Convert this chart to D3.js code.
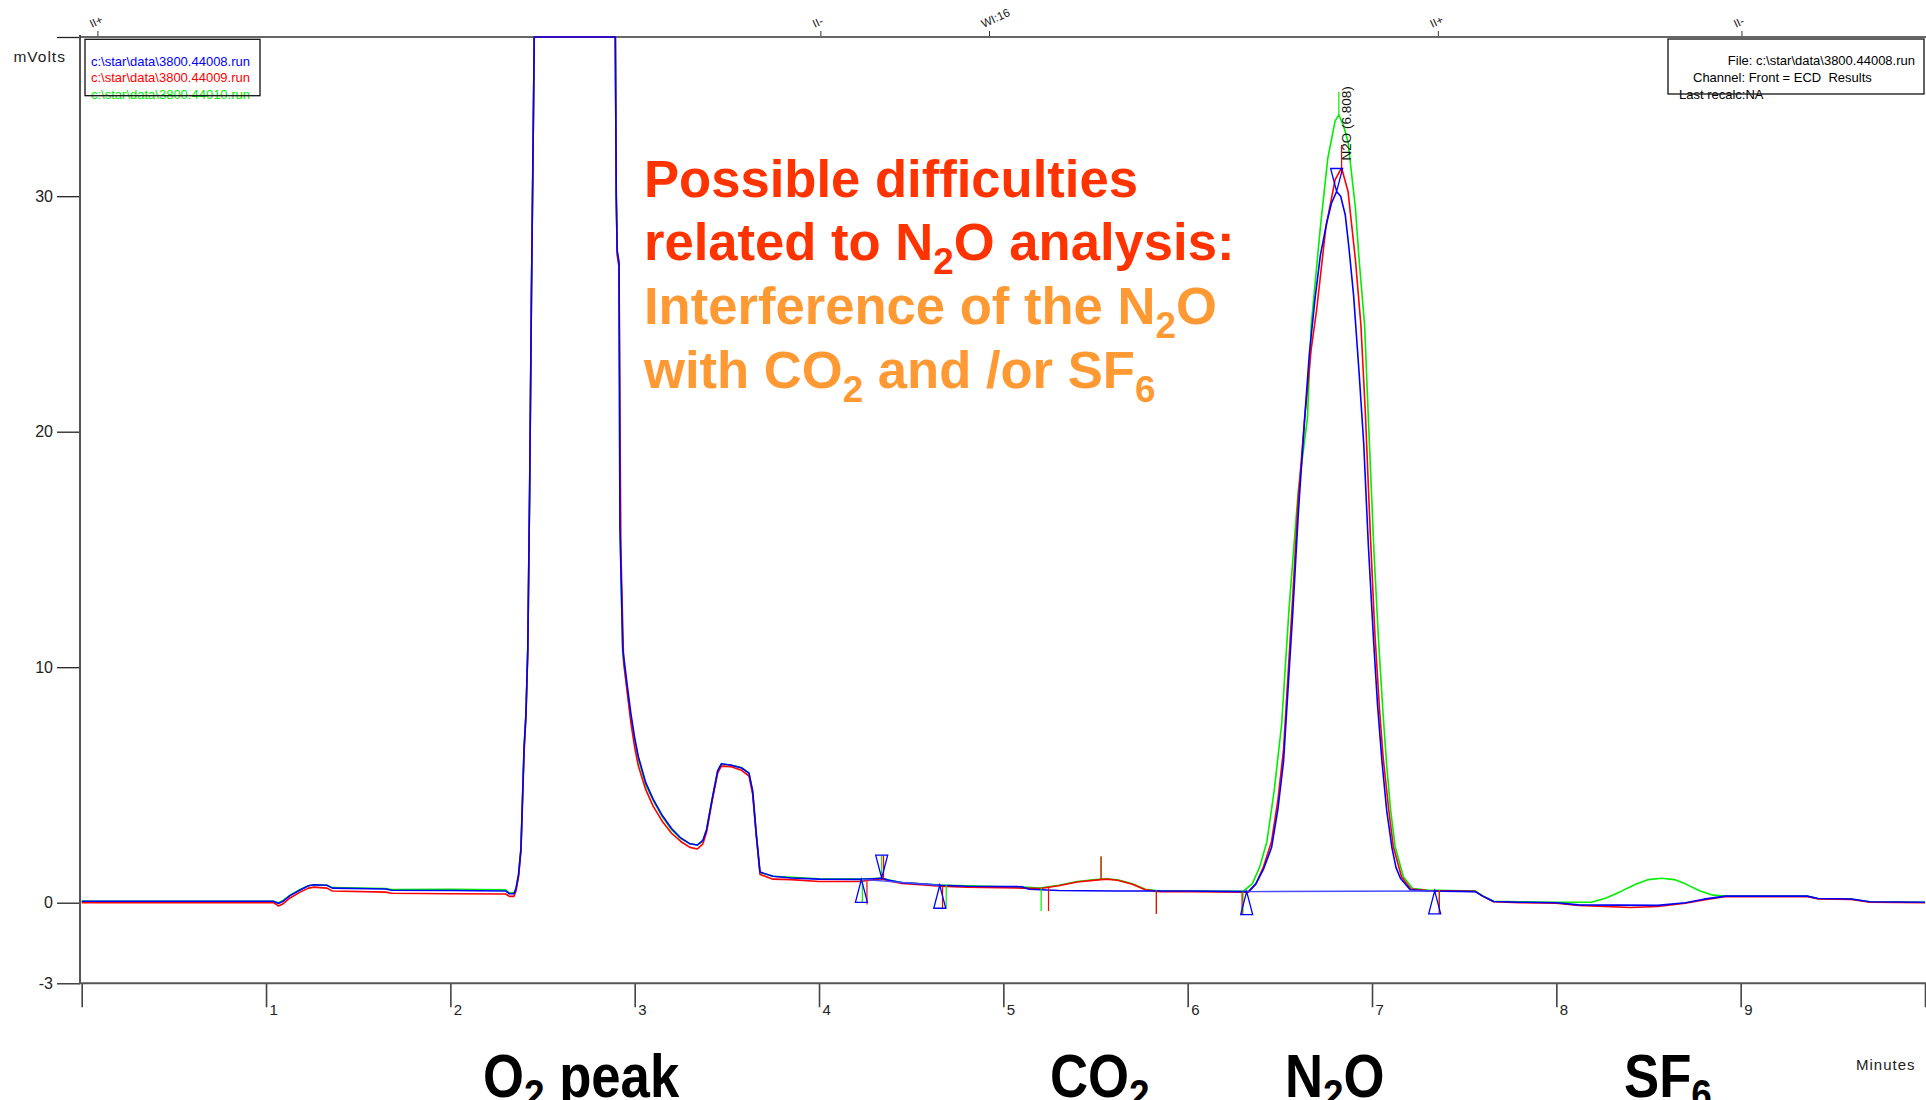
<!DOCTYPE html>
<html>
<head>
<meta charset="utf-8">
<script src="https://cdn.jsdelivr.net/npm/d3@7"></script>
<style>
  body { margin: 0; background: #fff; }
  svg { display: block; }
  text { font-family: "Liberation Sans", Arial, sans-serif; }
</style>
</head>
<body>
<script>
// chromatogram runs, each point is [minutes, mVolts]
var blueRun = [
  [0, 0.06], [1.04, 0.06], [1.067, -0.03], [1.09, 0.05], [1.13, 0.3], [1.185, 0.54], [1.23, 0.72], [1.26, 0.76],
  [1.33, 0.74], [1.36, 0.62], [1.65, 0.58], [1.68, 0.53], [2.0, 0.52], [2.3, 0.5], [2.32, 0.38], [2.345, 0.38],
  [2.356, 0.6], [2.37, 1.2], [2.383, 2.3], [2.40, 6.6], [2.41, 8.0], [2.42, 10.8], [2.43, 17.5], [2.44, 26],
  [2.45, 33], [2.455, 36.76], [2.895, 36.76], [2.9, 30], [2.905, 27.7], [2.915, 27.2], [2.92, 16], [2.935, 10.8],
  [2.96, 9.2], [2.98, 8.0], [3.0, 7.0], [3.02, 6.2], [3.06, 5.1], [3.1, 4.4], [3.15, 3.7], [3.2, 3.15],
  [3.25, 2.75], [3.3, 2.5], [3.34, 2.45], [3.37, 2.65], [3.39, 3.1], [3.42, 4.4], [3.45, 5.6], [3.47, 5.9],
  [3.52, 5.85], [3.58, 5.72], [3.62, 5.5], [3.64, 4.75], [3.66, 2.9], [3.68, 1.3], [3.75, 1.12], [3.85, 1.05],
  [4.0, 1.0], [4.22, 0.99], [4.3, 1.02], [4.34, 1.04], [4.38, 0.95], [4.45, 0.85], [4.55, 0.8], [4.66, 0.74],
  [4.8, 0.7], [5.1, 0.68], [5.14, 0.57], [5.3, 0.52], [5.6, 0.5], [6.0, 0.5], [6.33, 0.47], [6.37, 0.8],
  [6.41, 1.4], [6.455, 2.34], [6.49, 4.0], [6.52, 6.0], [6.57, 12.3], [6.6, 16.5], [6.635, 20.6], [6.66, 23.3],
  [6.69, 25.6], [6.72, 27.5], [6.755, 28.9], [6.78, 29.7], [6.808, 30.2], [6.83, 30.0], [6.855, 29.2], [6.875, 27.8],
  [6.9, 25.8], [6.93, 22.5], [6.955, 19.5], [6.98, 15.2], [7.008, 11.2], [7.03, 8.4], [7.054, 6.0], [7.08, 3.9],
  [7.108, 2.34], [7.13, 1.5], [7.154, 1.04], [7.207, 0.55], [7.3, 0.5], [7.56, 0.47], [7.6, 0.28], [7.66, 0.05],
  [7.8, 0.02], [8.0, 0.0], [8.12, -0.08], [8.55, -0.1], [8.7, 0.0], [8.8, 0.15], [8.92, 0.28], [9.36, 0.28],
  [9.42, 0.18], [9.6, 0.16], [9.7, 0.04], [10, 0.02]
];

var redRun = [
  [0, 0.0], [1.04, 0.0], [1.067, -0.12], [1.09, -0.05], [1.13, 0.2], [1.185, 0.45], [1.23, 0.62], [1.26, 0.66],
  [1.33, 0.62], [1.36, 0.5], [1.65, 0.45], [1.68, 0.4], [2.0, 0.38], [2.3, 0.37], [2.32, 0.27], [2.345, 0.27],
  [2.356, 0.5], [2.37, 1.1], [2.383, 2.2], [2.40, 6.4], [2.41, 7.9], [2.42, 10.6], [2.43, 17.3], [2.44, 25.8],
  [2.45, 33], [2.455, 36.76], [2.895, 36.76], [2.9, 30], [2.905, 27.5], [2.915, 27], [2.925, 15], [2.94, 10.2],
  [2.96, 8.9], [2.98, 7.6], [3.0, 6.6], [3.02, 5.8], [3.06, 4.8], [3.1, 4.1], [3.15, 3.45], [3.2, 2.95],
  [3.25, 2.6], [3.3, 2.35], [3.34, 2.28], [3.37, 2.5], [3.39, 3.0], [3.42, 4.3], [3.45, 5.5], [3.47, 5.8],
  [3.52, 5.78], [3.58, 5.62], [3.62, 5.38], [3.64, 4.6], [3.66, 2.8], [3.68, 1.2], [3.75, 1.0], [3.85, 0.98],
  [4.0, 0.9], [4.22, 0.9], [4.3, 0.98], [4.34, 1.02], [4.38, 0.92], [4.45, 0.82], [4.55, 0.76], [4.66, 0.7],
  [4.8, 0.66], [5.1, 0.62], [5.2, 0.6], [5.3, 0.72], [5.4, 0.88], [5.5, 0.96], [5.56, 1.0], [5.62, 0.95],
  [5.7, 0.78], [5.77, 0.55], [5.85, 0.47], [6.0, 0.47], [6.33, 0.45], [6.37, 0.8], [6.41, 1.5], [6.455, 2.6],
  [6.49, 4.4], [6.52, 6.5], [6.57, 13.0], [6.6, 17.2], [6.635, 20.6], [6.67, 23.5], [6.70, 25.2], [6.75, 28.7],
  [6.80, 30.7], [6.835, 31.2], [6.87, 30.2], [6.91, 27.3], [6.94, 24.5], [6.965, 20.6], [6.99, 15.8], [7.015, 11.5],
  [7.04, 8.3], [7.06, 6.2], [7.09, 4.0], [7.115, 2.4], [7.16, 1.1], [7.21, 0.58], [7.3, 0.52], [7.56, 0.48],
  [7.6, 0.28], [7.66, 0.04], [7.8, 0.0], [8.0, -0.02], [8.12, -0.1], [8.4, -0.18], [8.55, -0.14], [8.7, -0.02],
  [8.8, 0.12], [8.92, 0.26], [9.36, 0.26], [9.42, 0.16], [9.6, 0.14], [9.7, 0.02], [10, 0.0]
];

var greenRun = [
  [0, 0.06], [1.04, 0.06], [1.067, 0.0], [1.09, 0.08], [1.13, 0.32], [1.185, 0.56], [1.23, 0.72], [1.26, 0.76],
  [1.33, 0.74], [1.36, 0.64], [1.65, 0.6], [1.68, 0.56], [2.0, 0.57], [2.3, 0.55], [2.32, 0.42], [2.345, 0.42],
  [2.356, 0.6], [2.37, 1.2], [2.383, 2.3], [2.40, 6.6], [2.41, 8.0], [2.42, 10.8], [2.43, 17.5], [2.44, 26],
  [2.45, 33], [2.455, 36.76], [2.895, 36.76], [2.9, 30], [2.905, 27.6], [2.915, 27.1], [2.92, 16], [2.935, 10.6],
  [2.96, 9.0], [2.98, 7.8], [3.0, 6.9], [3.02, 6.1], [3.06, 5.0], [3.1, 4.35], [3.15, 3.65], [3.2, 3.1],
  [3.25, 2.72], [3.3, 2.5], [3.34, 2.45], [3.37, 2.62], [3.39, 3.1], [3.42, 4.4], [3.45, 5.6], [3.47, 5.88],
  [3.52, 5.85], [3.58, 5.74], [3.62, 5.5], [3.64, 4.7], [3.66, 2.85], [3.68, 1.28], [3.75, 1.12], [3.85, 1.08],
  [4.0, 1.02], [4.22, 1.0], [4.3, 1.03], [4.34, 1.05], [4.38, 0.96], [4.45, 0.86], [4.55, 0.8], [4.66, 0.75],
  [4.8, 0.72], [5.1, 0.66], [5.2, 0.62], [5.3, 0.74], [5.4, 0.9], [5.5, 0.98], [5.56, 1.02], [5.62, 0.97],
  [5.7, 0.8], [5.77, 0.57], [5.85, 0.5], [6.0, 0.5], [6.3, 0.48], [6.35, 0.8], [6.39, 1.5], [6.43, 2.6],
  [6.47, 4.8], [6.51, 7.6], [6.55, 12.5], [6.6, 17.5], [6.65, 20.6], [6.67, 24.5], [6.72, 28.7], [6.76, 31.6],
  [6.80, 33.2], [6.82, 33.45], [6.845, 33.0], [6.87, 32.3], [6.91, 29.5], [6.93, 27.3], [6.96, 24.5], [6.98, 20.6],
  [7.01, 15.0], [7.035, 11.2], [7.06, 8.0], [7.08, 5.8], [7.1, 4.0], [7.125, 2.4], [7.17, 1.1], [7.22, 0.6],
  [7.3, 0.54], [7.56, 0.5], [7.6, 0.3], [7.66, 0.06], [7.8, 0.04], [8.0, 0.02], [8.19, 0.02], [8.27, 0.2],
  [8.35, 0.48], [8.43, 0.78], [8.5, 0.98], [8.57, 1.04], [8.64, 0.98], [8.7, 0.8], [8.78, 0.5], [8.85, 0.32],
  [8.92, 0.28], [9.36, 0.28], [9.42, 0.18], [9.6, 0.16], [9.7, 0.04], [10, 0.02]
];

// integration marks: [minutes, mVolts, side]
var blueMarks = [[4.23, 0.99, "down"], [4.34, 1.04, "up"], [4.655, 0.74, "down"], [6.32, 0.47, "down"], [6.808, 30.2, "up"], [7.34, 0.5, "down"]];
var redMarks = [[4.26, 0.9, "down"], [4.35, 1.02, "up"], [4.67, 0.7, "down"], [5.245, 0.62, "down"], [5.53, 0.98, "up"], [5.83, 0.5, "down"], [6.295, 0.45, "down"], [6.835, 31.2, "up"], [7.365, 0.52, "down"]];
var greenMarks = [[4.235, 1.0, "down"], [4.34, 1.05, "up"], [4.69, 0.75, "down"], [5.205, 0.62, "down"], [5.53, 1.0, "up"], [5.83, 0.52, "down"], [6.3, 0.48, "down"], [6.82, 33.45, "up"], [7.365, 0.54, "down"]];
// drawn baselines under the blue peaks: [t1, v1, t2, v2]
var blueBaselines = [[4.23, 0.99, 4.655, 0.74], [6.32, 0.47, 7.34, 0.5]];

// timed events along the top
var eventTimes = [0.088, 4.01, 4.925, 7.36, 9.007];
var eventLabels = ["II+", "II-", "WI:16", "II+", "II-"];

var yTicks = [-3, 0, 10, 20, 30, 36.76];
var xTicks = [0, 1, 2, 3, 4, 5, 6, 7, 8, 9, 10];
var runFiles = ["c:\\star\\data\\3800.44008.run", "c:\\star\\data\\3800.44009.run", "c:\\star\\data\\3800.44010.run"];
var runColors = ["#0000ff", "#ff0000", "#00ee00"];

var W = 1926, H = 1100;
var svg = d3.select("body").append("svg").attr("width", W).attr("height", H);

var x = d3.scaleLinear().domain([0, 10]).range([81.7, 1925]);
// below zero the detector scale is squeezed onto the last tick
var y = d3.scaleLinear().domain([-3, 0, 36.76]).range([983.3, 902.7, 37]);

// axes
var yAxis = d3.axisLeft(y).tickValues(yTicks).tickSize(23).tickPadding(4)
  .tickFormat(function(d) { return d > 35 ? "" : d; });
var gy = svg.append("g").attr("transform", "translate(80,0)").call(yAxis);
gy.select(".domain").remove();
gy.selectAll(".tick line").attr("stroke", "#222").attr("stroke-width", 1.3);
gy.selectAll(".tick text").attr("font-size", 16).attr("fill", "#222").style("font-family", "Liberation Sans, Arial, sans-serif");

var xAxis = d3.axisBottom(x).tickValues(xTicks).tickSize(24)
  .tickFormat(function(d) { return d >= 1 && d <= 9 ? d : ""; });
var gx = svg.append("g").attr("transform", "translate(0,983.3)").call(xAxis);
gx.select(".domain").remove();
gx.selectAll(".tick line").attr("stroke", "#444").attr("stroke-width", 1.6);
gx.selectAll(".tick text").attr("font-size", 15).attr("fill", "#222")
  .attr("text-anchor", "start").attr("x", 3).attr("y", 21)
  .style("font-family", "Liberation Sans, Arial, sans-serif");

// frame lines
svg.append("line").attr("x1", 80).attr("x2", 80).attr("y1", 35).attr("y2", 984)
  .attr("stroke", "#555").attr("stroke-width", 2);
svg.append("line").attr("x1", 79).attr("x2", W).attr("y1", 983.3).attr("y2", 983.3)
  .attr("stroke", "#555").attr("stroke-width", 2);
svg.append("line").attr("x1", 80).attr("x2", W).attr("y1", 37).attr("y2", 37)
  .attr("stroke", "#333").attr("stroke-width", 1.6);

// event ticks on top
eventTimes.forEach(function(t, i) {
  svg.append("line").attr("x1", x(t)).attr("x2", x(t)).attr("y1", 31).attr("y2", 36)
    .attr("stroke", "#333").attr("stroke-width", 1);
  svg.append("text").attr("transform", "translate(" + (x(t) - 6) + ",28) rotate(-25)")
    .attr("font-size", 11.5).attr("fill", "#222").text(eventLabels[i]);
});

// traces
var line = d3.line().x(function(d) { return x(d[0]); }).y(function(d) { return y(d[1]); });
[greenRun, redRun, blueRun].forEach(function(run, i) {
  svg.append("path").datum(run).attr("d", line).attr("fill", "none")
    .attr("stroke", [runColors[2], runColors[1], runColors[0]][i]).attr("stroke-width", 1.6)
    .attr("stroke-linejoin", "round");
});

// baselines
blueBaselines.forEach(function(b) {
  svg.append("line").attr("x1", x(b[0])).attr("y1", y(b[1])).attr("x2", x(b[2])).attr("y2", y(b[3]))
    .attr("stroke", "#4a4aff").attr("stroke-width", 1.4);
});

// red & green marks are short sticks, blue marks are triangles
function sticks(marks, color) {
  marks.forEach(function(m) {
    var y0 = y(m[1]), s = m[2] === "up" ? -23 : 23;
    svg.append("line").attr("x1", x(m[0])).attr("x2", x(m[0])).attr("y1", y0).attr("y2", y0 + s)
      .attr("stroke", color).attr("stroke-width", 1.2);
  });
}
sticks(greenMarks, runColors[2]);
sticks(redMarks, runColors[1]);
blueMarks.forEach(function(m) {
  var x0 = x(m[0]), y0 = y(m[1]), s = m[2] === "up" ? -23 : 23;
  svg.append("path").attr("d", "M" + x0 + "," + y0 + "L" + (x0 - 6) + "," + (y0 + s) + "L" + (x0 + 6) + "," + (y0 + s) + "Z")
    .attr("fill", "none").attr("stroke", runColors[0]).attr("stroke-width", 1.3);
});

// peak label
svg.append("text").attr("transform", "translate(" + (x(6.808) + 14) + "," + (y(30.2) - 31) + ") rotate(-90)")
  .attr("font-size", 13.5).attr("fill", "#111").text("N2O (6.808)");

// run legend
runFiles.forEach(function(f, i) {
  svg.append("text").attr("x", 91).attr("y", 65.7 + i * 16.4).attr("font-size", 13)
    .attr("fill", runColors[i]).text(f);
});
svg.append("rect").attr("x", 85).attr("y", 39.3).attr("width", 175).attr("height", 56.4)
  .attr("fill", "none").attr("stroke", "#111").attr("stroke-width", 1.3);

// info box
svg.append("text").attr("x", 1915).attr("y", 65).attr("text-anchor", "end").attr("font-size", 13)
  .text("File: c:\\star\\data\\3800.44008.run");
svg.append("text").attr("x", 1693).attr("y", 82).attr("font-size", 13).attr("xml:space", "preserve")
  .text("Channel: Front = ECD  Results");
svg.append("text").attr("x", 1679).attr("y", 99).attr("font-size", 13).text("Last recalc:NA");
svg.append("rect").attr("x", 1668).attr("y", 39).attr("width", 256).attr("height", 55)
  .attr("fill", "none").attr("stroke", "#111").attr("stroke-width", 1.3);

// axis titles
svg.append("text").attr("x", 13.4).attr("y", 62).attr("font-size", 15.5).attr("letter-spacing", 1)
  .attr("fill", "#222").text("mVolts");
svg.append("text").attr("x", 1856).attr("y", 1070).attr("font-size", 15).attr("letter-spacing", 1)
  .attr("fill", "#222").text("Minutes");

// text with subscripts: parts are [string, isSub]
function richText(g, parts, size, sub) {
  var t = g.append("text").attr("font-size", size).attr("font-weight", "bold");
  var lowered = false;
  parts.forEach(function(p) {
    if (p[1]) {
      t.append("tspan").attr("font-size", size * 0.7).attr("dy", sub).text(p[0]);
      lowered = true;
    } else {
      t.append("tspan").attr("dy", lowered ? -sub : 0).text(p[0]);
      lowered = false;
    }
  });
  return t;
}

// headline
var titleLines = [
  [[["Possible difficulties", 0]], "#ff3300", 197],
  [[["related to N", 0], ["2", 1], ["O analysis:", 0]], "#ff3300", 260],
  [[["Interference of the N", 0], ["2", 1], ["O", 0]], "#ff9933", 323.5],
  [[["with CO", 0], ["2", 1], [" and /or SF", 0], ["6", 1]], "#ff9933", 388]
];
titleLines.forEach(function(l) {
  var g = svg.append("g").attr("transform", "translate(644," + l[2] + ")");
  richText(g, l[0], 52.6, 14).attr("fill", l[1]).attr("xml:space", "preserve");
});

// peak names under the axis
var peakNames = [
  [[["O", 0], ["2", 1], [" peak", 0]], 483],
  [[["CO", 0], ["2", 1]], 1050],
  [[["N", 0], ["2", 1], ["O", 0]], 1285],
  [[["SF", 0], ["6", 1]], 1624]
];
peakNames.forEach(function(p) {
  var g = svg.append("g").attr("transform", "translate(" + p[1] + ",1097) scale(0.85,1)");
  richText(g, p[0], 62, 12).attr("fill", "#000").attr("xml:space", "preserve");
});
</script>
</body>
</html>
